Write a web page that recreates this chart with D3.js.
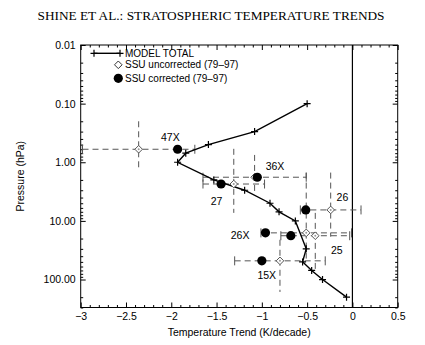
<!DOCTYPE html>
<html>
<head>
<meta charset="utf-8">
<script src="https://cdn.jsdelivr.net/npm/d3@7"></script>
<style>
  body { margin: 0; background: #fff; }
  text { font-family: "Liberation Sans", Arial, sans-serif; }
</style>
</head>
<body>
<div id="chart"></div>
<script>
// model total profile
const modelPressure = [0.1, 0.3, 0.5, 0.7, 1, 2, 3, 5, 7, 10, 30, 50, 70, 100, 200];
const modelTrend = [-0.50, -1.08, -1.59, -1.84, -1.93, -1.53, -1.19, -0.91, -0.81, -0.63, -0.51, -0.55, -0.45, -0.33, -0.065];

// SSU channels
const channels = ["47X", "36X", "27", "26", "26X", "25", "15X"];
const channelPressure = [0.60, 1.8, 2.35, 6.5, 16, 17.9, 48];
const uncorrected = [-2.36, -1.08, -1.31, -0.24, -0.51, -0.41, -0.80];
const corrected = [-1.93, -1.05, -1.45, -0.515, -0.96, -0.68, -1.00];
const trendError = [0.62, 0.57, 0.34, 0.335, 0.5, 0.38, 0.5];
const layerTop = [0.20, 0.75, 0.59, 1.5, 1.5, 7.3, 21];
const layerBottom = [1.36, 3.2, 7.3, 18.6, 50, 69, 163];
// where the channel names sit (data units)
const labelTrend = [-2.01, -0.855, -1.50, -0.11, -1.24, -0.173, -0.946];
const labelPressure = [0.37, 1.16, 4.7, 3.9, 17.4, 31.4, 84];

const xTicks = [-3, -2.5, -2, -1.5, -1, -0.5, 0, 0.5];
const yTicks = [0.01, 0.1, 1, 10, 100];

const width = 425, height = 345;
const svg = d3.select("#chart").append("svg")
  .attr("width", width)
  .attr("height", height);

const x = d3.scaleLinear().domain([-3, 0.5]).range([80.7, 397.7]);
const y = d3.scaleLog().domain([0.01, 300]).range([45, 307.5]);
const [x0, x1] = x.range();
const [y0, y1] = y.range();

// title
svg.append("text")
  .attr("x", 211).attr("y", 20)
  .attr("text-anchor", "middle")
  .style("font-family", "'Liberation Serif', 'Times New Roman', serif")
  .style("font-size", "13.3px")
  .text("SHINE ET AL.: STRATOSPHERIC TEMPERATURE TRENDS");

// minor tick values
const xMinor = d3.range(-30, 6).map(d => d / 10).filter(d => !xTicks.some(t => Math.abs(t - d) < 1e-6));
const yMinor = [];
[0.01, 0.1, 1, 10, 100].forEach(dec => {
  for (let k = 2; k <= 9; k++) if (dec * k <= 300) yMinor.push(dec * k);
});

const noLabel = () => "";
const fmtX = d => d3.format("")(d).replace("-", "\u2212");

function axes(g, gen, vals, size, fmt) {
  g.call(gen.tickValues(vals).tickSizeInner(size).tickSizeOuter(0).tickPadding(5).tickFormat(fmt));
  g.select(".domain").remove();
  g.selectAll("line").attr("stroke", "#000");
}

// bottom
axes(svg.append("g").attr("transform", `translate(0,${y1})`), d3.axisBottom(x), xTicks, -5, fmtX);
axes(svg.append("g").attr("transform", `translate(0,${y1})`), d3.axisBottom(x), xMinor, -2.5, noLabel);
// top
axes(svg.append("g").attr("transform", `translate(0,${y0})`), d3.axisTop(x), xTicks, -5, noLabel);
axes(svg.append("g").attr("transform", `translate(0,${y0})`), d3.axisTop(x), xMinor, -2.5, noLabel);
// left
axes(svg.append("g").attr("transform", `translate(${x0},0)`), d3.axisLeft(y), yTicks, -5, d3.format(".2f"));
axes(svg.append("g").attr("transform", `translate(${x0},0)`), d3.axisLeft(y), yMinor, -2.5, noLabel);
// right
axes(svg.append("g").attr("transform", `translate(${x1},0)`), d3.axisRight(y), yTicks, -5, noLabel);
axes(svg.append("g").attr("transform", `translate(${x1},0)`), d3.axisRight(y), yMinor, -2.5, noLabel);

svg.selectAll(".tick text").style("font-size", "10.5px").attr("fill", "#000");

// frame
svg.append("rect")
  .attr("x", x0).attr("y", y0)
  .attr("width", x1 - x0).attr("height", y1 - y0)
  .attr("fill", "none").attr("stroke", "#000").attr("stroke-width", 1);

// zero line
svg.append("line")
  .attr("x1", x(0)).attr("x2", x(0))
  .attr("y1", y0).attr("y2", y1)
  .attr("stroke", "#000").attr("stroke-width", 1.2);

// axis titles
svg.append("text")
  .attr("x", (x0 + x1) / 2).attr("y", 336)
  .attr("text-anchor", "middle")
  .style("font-size", "10.5px")
  .text("Temperature Trend (K/decade)");

svg.append("text")
  .attr("transform", `translate(24,${(y0 + y1) / 2}) rotate(-90)`)
  .attr("text-anchor", "middle")
  .style("font-size", "10.5px")
  .text("Pressure (hPa)");

// SSU error bars
const plot = svg.append("g");
const dash = "6,4";
const errColor = "#555";
channels.forEach((c, i) => {
  const py = y(channelPressure[i]);
  const lo = Math.max(uncorrected[i] - trendError[i], -3);
  const hi = uncorrected[i] + trendError[i];
  plot.append("line")
    .attr("x1", x(lo)).attr("x2", x(hi))
    .attr("y1", py).attr("y2", py)
    .attr("stroke", errColor).attr("stroke-dasharray", dash);
  [lo, hi].forEach(v => {
    plot.append("line")
      .attr("x1", x(v)).attr("x2", x(v))
      .attr("y1", py - 4.5).attr("y2", py + 4.5)
      .attr("stroke", errColor);
  });
  plot.append("line")
    .attr("x1", x(uncorrected[i])).attr("x2", x(uncorrected[i]))
    .attr("y1", y(layerTop[i])).attr("y2", y(layerBottom[i]))
    .attr("stroke", errColor).attr("stroke-dasharray", dash);
});

// model line
const modelData = modelPressure.map((p, i) => ({ p, t: modelTrend[i] }));
const line = d3.line().x(d => x(d.t)).y(d => y(d.p));
plot.append("path")
  .datum(modelData)
  .attr("fill", "none")
  .attr("stroke", "#000")
  .attr("stroke-width", 1.4)
  .attr("d", line);

const plus = (s) => `M${-s},0H${s}M0,${-s}V${s}`;
plot.selectAll(".mk")
  .data(modelData)
  .enter().append("path")
  .attr("transform", d => `translate(${x(d.t)},${y(d.p)})`)
  .attr("d", plus(3.5))
  .attr("stroke", "#000").attr("stroke-width", 1.2);

// diamonds (uncorrected)
const diamond = (s) => `M0,${-s}L${s},0L0,${s}L${-s},0Z`;
channels.forEach((c, i) => {
  const g = plot.append("g")
    .attr("transform", `translate(${x(uncorrected[i])},${y(channelPressure[i])})`);
  g.append("path").attr("d", diamond(3.8))
    .attr("fill", "#fff").attr("stroke", "#555").attr("stroke-width", 1);
  g.append("circle").attr("r", 1).attr("fill", "#999");
});

// circles (corrected)
plot.selectAll(".cor")
  .data(channels)
  .enter().append("circle")
  .attr("cx", (d, i) => x(corrected[i]))
  .attr("cy", (d, i) => y(channelPressure[i]))
  .attr("r", 4.6)
  .attr("fill", "#000");

// channel names
plot.selectAll(".lab")
  .data(channels)
  .enter().append("text")
  .attr("x", (d, i) => x(labelTrend[i]))
  .attr("y", (d, i) => y(labelPressure[i]))
  .attr("dy", "0.35em")
  .attr("text-anchor", "middle")
  .style("font-size", "10.5px")
  .text(d => d);

// legend
const legend = svg.append("g");
legend.append("line")
  .attr("x1", 94).attr("x2", 120).attr("y1", 53.3).attr("y2", 53.3)
  .attr("stroke", "#000").attr("stroke-width", 1.4);
[94, 120].forEach(v => legend.append("path")
  .attr("transform", `translate(${v},53.3)`)
  .attr("d", plus(3.5)).attr("stroke", "#000").attr("stroke-width", 1.2));
legend.append("path")
  .attr("transform", "translate(118.3,64.8)")
  .attr("d", diamond(3.8)).attr("fill", "#fff").attr("stroke", "#333");
legend.append("circle")
  .attr("cx", 118.3).attr("cy", 78.3).attr("r", 4.6).attr("fill", "#000");
const legendText = ["MODEL TOTAL", "SSU uncorrected (79\u201397)", "SSU corrected (79\u201397)"];
legend.selectAll(".lt")
  .data(legendText)
  .enter().append("text")
  .attr("x", 125)
  .attr("y", (d, i) => [53.3, 64.8, 78.3][i])
  .attr("dy", "0.35em")
  .style("font-size", "10px")
  .text(d => d);
</script>
</body>
</html>
